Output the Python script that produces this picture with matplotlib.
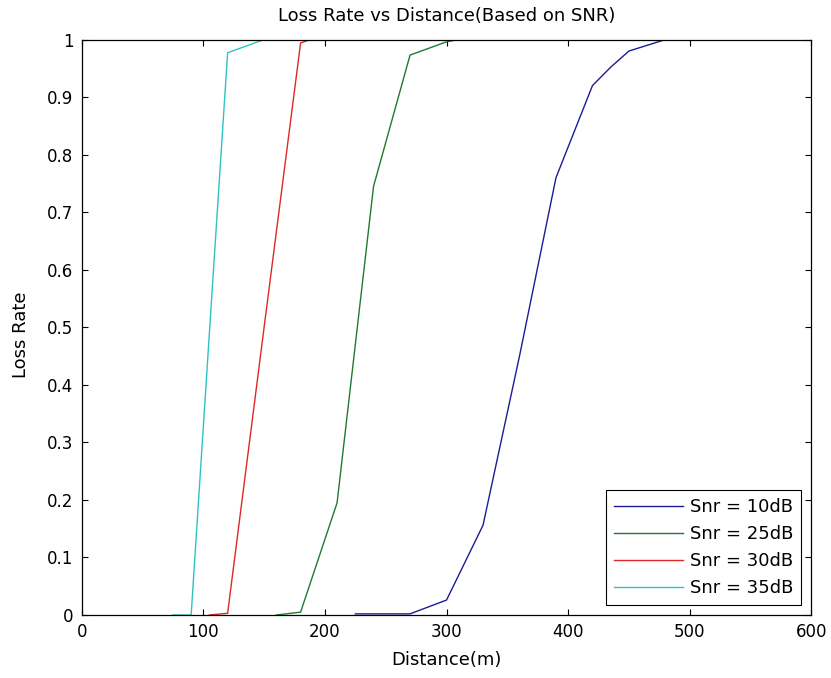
import matplotlib
matplotlib.use("Agg")
import matplotlib.pyplot as plt

# distance (m) vs loss rate, one curve per SNR level
d_10 = [225, 270, 300, 330, 360, 390, 420, 435, 450, 480]
loss_10 = [0.002, 0.002, 0.026, 0.156, 0.45, 0.76, 0.92, 0.952, 0.98, 1.0]

d_25 = [160, 180, 210, 240, 270, 300, 310]
loss_25 = [0.0, 0.005, 0.195, 0.745, 0.973, 0.996, 1.0]

d_30 = [105, 120, 150, 180, 188, 200]
loss_30 = [0.0, 0.003, 0.5, 0.994, 1.0, 1.0]

d_35 = [75, 90, 105, 120, 150]
loss_35 = [0.0, 0.0, 0.49, 0.977, 1.0]

labels = ["Snr = 10dB", "Snr = 25dB", "Snr = 30dB", "Snr = 35dB"]
colors = ["#1c1c96", "#1f7a2e", "#e02626", "#2ec4c4"]

plt.rcParams['font.family'] = ['DejaVu Sans']
plt.rcParams['font.size'] = 12

fig = plt.figure(figsize=(8.31, 6.78), dpi=100)
ax = fig.add_axes([0.0983, 0.0929, 0.8781, 0.8488])

ax.plot(d_10, loss_10, color=colors[0], lw=1.0, label=labels[0])
ax.plot(d_25, loss_25, color=colors[1], lw=1.0, label=labels[1])
ax.plot(d_30, loss_30, color=colors[2], lw=1.0, label=labels[2])
ax.plot(d_35, loss_35, color=colors[3], lw=1.0, label=labels[3])

ax.set_xlim(0, 600)
ax.set_ylim(0, 1)
ax.set_xticks([0, 100, 200, 300, 400, 500, 600])
ax.set_yticks([0, 0.1, 0.2, 0.3, 0.4, 0.5, 0.6, 0.7, 0.8, 0.9, 1])
ax.set_yticklabels(["0", "0.1", "0.2", "0.3", "0.4", "0.5", "0.6", "0.7", "0.8", "0.9", "1"])
ax.tick_params(direction='in', length=4.5, width=0.8, top=True, right=True,
               labelsize=12, pad=6)
for s in ax.spines.values():
    s.set_linewidth(0.9)

ax.set_title("Loss Rate vs Distance(Based on SNR)", fontsize=13, pad=13)
ax.set_xlabel("Distance(m)", fontsize=13, labelpad=7)
ax.set_ylabel("Loss Rate", fontsize=13)
ax.yaxis.set_label_coords(-0.071, 0.487)

leg = ax.legend(loc='lower right', fancybox=False, framealpha=1, edgecolor='black',
                borderaxespad=0.55, handlelength=3.8, handletextpad=0.4,
                labelspacing=0.5, borderpad=0.45, fontsize=13)
leg.get_frame().set_linewidth(0.8)

fig.savefig("out.png", dpi=100)
